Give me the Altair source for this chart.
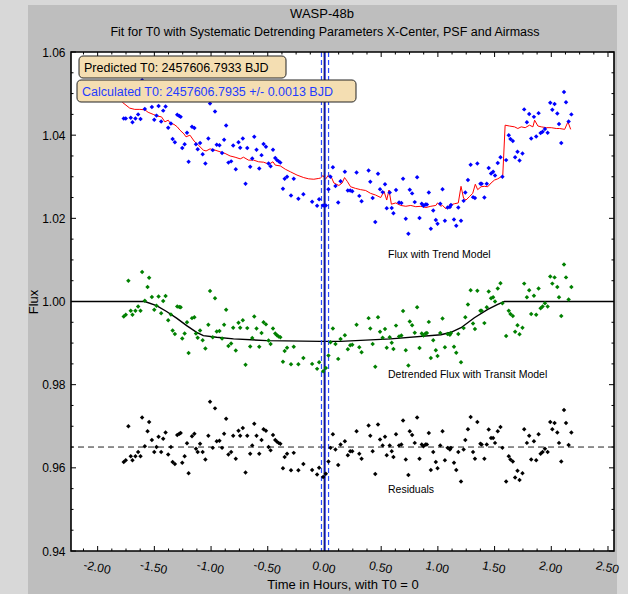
import altair as alt
import pandas as pd

# ---------------- data ----------------
time_h = [-1.770, -1.752, -1.729, -1.708, -1.693, -1.667, -1.643, -1.622, -1.608, -1.584,
          -1.560, -1.546, -1.522, -1.501, -1.481, -1.463, -1.440, -1.422, -1.401, -1.378,
          -1.354, -1.339, -1.319, -1.298, -1.280, -1.268, -1.254, -1.233, -1.212, -1.198,
          -1.168, -1.147, -1.133, -1.118, -1.097, -1.074, -1.050, -1.024, -1.009, -0.985,
          -0.965, -0.950, -0.926, -0.903, -0.885, -0.867, -0.847, -0.823, -0.805, -0.782,
          -0.758, -0.743, -0.720, -0.696, -0.681, -0.655, -0.637, -0.619, -0.599, -0.575,
          -0.555, -0.537, -0.516, -0.493, -0.475, -0.454, -0.434, -0.419, -0.404, -0.389,
          -0.366, -0.351, -0.330, -0.295, -0.271, -0.230, -0.186, -0.109, -0.065, -0.047,
          -0.012, 0.012, 0.035, 0.053, 0.074, 0.097, 0.121, 0.142, 0.180, 0.206,
          0.227, 0.245, 0.283, 0.307, 0.327, 0.389, 0.404, 0.425, 0.448, 0.472,
          0.490, 0.513, 0.534, 0.549, 0.575, 0.593, 0.608, 0.631, 0.658, 0.678,
          0.693, 0.717, 0.740, 0.752, 0.773, 0.796, 0.817, 0.838, 0.858, 0.873,
          0.891, 0.903, 0.920, 0.938, 0.959, 0.982, 0.997, 1.021, 1.041, 1.062,
          1.086, 1.106, 1.115, 1.142, 1.162, 1.180, 1.204, 1.227, 1.242, 1.265,
          1.289, 1.310, 1.327, 1.348, 1.375, 1.386, 1.410, 1.431, 1.448, 1.469,
          1.487, 1.504, 1.528, 1.552, 1.569, 1.602, 1.625, 1.640, 1.661, 1.681,
          1.702, 1.720, 1.746, 1.761, 1.785, 1.805, 1.823, 1.847, 1.867, 1.888,
          1.906, 1.923, 1.944, 1.968, 1.991, 2.009, 2.029, 2.053, 2.068, 2.088,
          2.112, 2.130, 2.153, 2.177]

flux_raw = [1.0440, 1.0440, 1.0517, 1.0442, 1.0431, 1.0440, 1.0450, 1.0439, 1.0532, 1.0463,
            1.0494, 1.0514, 1.0468, 1.0437, 1.0447, 1.0470, 1.0433, 1.0459, 1.0469, 1.0418,
            1.0428, 1.0391, 1.0383, 1.0449, 1.0446, 1.0444, 1.0369, 1.0378, 1.0406, 1.0336,
            1.0420, 1.0417, 1.0378, 1.0366, 1.0381, 1.0354, 1.0332, 1.0392, 1.0476, 1.0364,
            1.0457, 1.0377, 1.0376, 1.0357, 1.0389, 1.0423, 1.0334, 1.0337, 1.0375, 1.0318,
            1.0383, 1.0370, 1.0392, 1.0283, 1.0369, 1.0324, 1.0344, 1.0396, 1.0365, 1.0320,
            1.0352, 1.0379, 1.0372, 1.0332, 1.0325, 1.0365, 1.0345, 1.0340, 1.0337, 1.0334,
            1.0271, 1.0295, 1.0300, 1.0255, 1.0295, 1.0247, 1.0258, 1.0240, 1.0230, 1.0246,
            1.0231, 1.0231, 1.0270, 1.0300, 1.0323, 1.0278, 1.0238, 1.0289, 1.0312, 1.0267,
            1.0267, 1.0265, 1.0310, 1.0254, 1.0241, 1.0315, 1.0288, 1.0249, 1.0191, 1.0307,
            1.0270, 1.0263, 1.0282, 1.0224, 1.0262, 1.0225, 1.0212, 1.0268, 1.0238, 1.0237,
            1.0295, 1.0199, 1.0163, 1.0269, 1.0260, 1.0239, 1.0299, 1.0201, 1.0235, 1.0230,
            1.0233, 1.0233, 1.0262, 1.0175, 1.0219, 1.0196, 1.0187, 1.0235, 1.0270, 1.0194,
            1.0226, 1.0227, 1.0232, 1.0197, 1.0182, 1.0226, 1.0194, 1.0242, 1.0262, 1.0292,
            1.0329, 1.0251, 1.0249, 1.0332, 1.0283, 1.0283, 1.0250, 1.0283, 1.0321, 1.0308,
            1.0312, 1.0303, 1.0333, 1.0347, 1.0300, 1.0340, 1.0400, 1.0391, 1.0386, 1.0347,
            1.0360, 1.0339, 1.0356, 1.0462, 1.0431, 1.0451, 1.0392, 1.0444, 1.0397, 1.0453,
            1.0405, 1.0408, 1.0415, 1.0406, 1.0478, 1.0461, 1.0475, 1.0452, 1.0427, 1.0381,
            1.0504, 1.0479, 1.0433, 1.0450]

detrended = [0.9964, 0.9968, 1.0050, 0.9978, 0.9968, 0.9978, 0.9988, 0.9978, 1.0071, 1.0002,
             1.0035, 1.0057, 1.0011, 0.9980, 0.9990, 1.0012, 0.9972, 1.0001, 1.0013, 0.9955,
             0.9969, 0.9930, 0.9922, 0.9988, 0.9987, 0.9986, 0.9911, 0.9923, 0.9950, 0.9876,
             0.9960, 0.9962, 0.9923, 0.9913, 0.9930, 0.9907, 0.9887, 0.9944, 1.0025, 0.9914,
             1.0008, 0.9928, 0.9929, 0.9911, 0.9944, 0.9980, 0.9893, 0.9899, 0.9937, 0.9882,
             0.9949, 0.9937, 0.9955, 0.9848, 0.9936, 0.9892, 0.9912, 0.9964, 0.9935, 0.9891,
             0.9924, 0.9950, 0.9945, 0.9906, 0.9898, 0.9935, 0.9923, 0.9919, 0.9916, 0.9914,
             0.9855, 0.9881, 0.9889, 0.9849, 0.9891, 0.9849, 0.9864, 0.9850, 0.9838, 0.9854,
             0.9832, 0.9840, 0.9870, 0.9902, 0.9935, 0.9898, 0.9862, 0.9910, 0.9919, 0.9885,
             0.9895, 0.9896, 0.9944, 0.9890, 0.9878, 0.9960, 0.9935, 0.9898, 0.9843, 0.9962,
             0.9927, 0.9913, 0.9934, 0.9889, 0.9914, 0.9901, 0.9886, 0.9942, 0.9916, 0.9918,
             0.9977, 0.9883, 0.9846, 0.9952, 0.9943, 0.9925, 0.9986, 0.9888, 0.9923, 0.9918,
             0.9923, 0.9924, 0.9951, 0.9864, 0.9907, 0.9883, 0.9869, 0.9924, 0.9959, 0.9890,
             0.9922, 0.9920, 0.9924, 0.9891, 0.9877, 0.9922, 0.9854, 0.9936, 0.9962, 0.9993,
             1.0027, 0.9947, 0.9934, 1.0026, 0.9978, 0.9978, 0.9948, 0.9986, 1.0024, 1.0008,
             1.0010, 1.0000, 1.0031, 1.0044, 0.9996, 0.9917, 0.9978, 0.9970, 0.9965, 0.9927,
             0.9943, 0.9921, 0.9937, 1.0043, 1.0010, 1.0027, 0.9970, 1.0014, 0.9968, 1.0031,
             0.9984, 0.9988, 0.9996, 0.9988, 1.0060, 1.0043, 1.0058, 1.0035, 1.0010, 0.9965,
             1.0089, 1.0058, 1.0005, 1.0035]

residuals = [0.9614, 0.9618, 0.9700, 0.9628, 0.9618, 0.9628, 0.9638, 0.9628, 0.9721, 0.9652,
             0.9688, 0.9710, 0.9667, 0.9638, 0.9650, 0.9675, 0.9638, 0.9670, 0.9685, 0.9632,
             0.9650, 0.9614, 0.9609, 0.9679, 0.9682, 0.9684, 0.9612, 0.9628, 0.9659, 0.9587,
             0.9676, 0.9682, 0.9646, 0.9638, 0.9658, 0.9638, 0.9620, 0.9677, 0.9759, 0.9648,
             0.9743, 0.9664, 0.9665, 0.9648, 0.9682, 0.9718, 0.9632, 0.9638, 0.9677, 0.9622,
             0.9689, 0.9677, 0.9696, 0.9589, 0.9677, 0.9634, 0.9654, 0.9706, 0.9677, 0.9634,
             0.9667, 0.9693, 0.9689, 0.9650, 0.9642, 0.9679, 0.9667, 0.9663, 0.9660, 0.9658,
             0.9599, 0.9626, 0.9634, 0.9594, 0.9636, 0.9594, 0.9609, 0.9595, 0.9584, 0.9600,
             0.9578, 0.9586, 0.9615, 0.9648, 0.9681, 0.9644, 0.9607, 0.9656, 0.9664, 0.9630,
             0.9640, 0.9640, 0.9688, 0.9634, 0.9622, 0.9702, 0.9677, 0.9640, 0.9585, 0.9704,
             0.9668, 0.9654, 0.9675, 0.9630, 0.9654, 0.9640, 0.9626, 0.9681, 0.9654, 0.9656,
             0.9714, 0.9620, 0.9583, 0.9688, 0.9679, 0.9660, 0.9721, 0.9622, 0.9656, 0.9652,
             0.9656, 0.9656, 0.9684, 0.9595, 0.9638, 0.9614, 0.9599, 0.9654, 0.9688, 0.9618,
             0.9648, 0.9644, 0.9648, 0.9612, 0.9595, 0.9638, 0.9567, 0.9644, 0.9667, 0.9693,
             0.9722, 0.9638, 0.9622, 0.9710, 0.9658, 0.9656, 0.9622, 0.9656, 0.9692, 0.9672,
             0.9672, 0.9660, 0.9688, 0.9698, 0.9648, 0.9567, 0.9628, 0.9620, 0.9615, 0.9577,
             0.9593, 0.9571, 0.9587, 0.9693, 0.9660, 0.9677, 0.9620, 0.9664, 0.9618, 0.9681,
             0.9634, 0.9638, 0.9646, 0.9638, 0.9710, 0.9693, 0.9708, 0.9685, 0.9660, 0.9615,
             0.9739, 0.9708, 0.9655, 0.9685]

# red systematic trend model (vertices of the drawn line)
trend_t = [-1.782, -1.717, -1.673, -1.628, -1.584, -1.555, -1.510, -1.475, -1.437, -1.407,
           -1.378, -1.357, -1.327, -1.298, -1.274, -1.239, -1.221, -1.186, -1.150, -1.112,
           -1.068, -1.044, -1.009, -0.965, -0.920, -0.876, -0.832, -0.788, -0.743, -0.714,
           -0.670, -0.625, -0.581, -0.537, -0.507, -0.478, -0.454, -0.434, -0.389, -0.345,
           -0.301, -0.242, -0.183, -0.139, -0.094, -0.050, -0.035, -0.012, 0.009, 0.038,
           0.059, 0.083, 0.127, 0.156, 0.177, 0.201, 0.230, 0.274, 0.319, 0.363,
           0.407, 0.451, 0.496, 0.525, 0.549, 0.569, 0.590, 0.628, 0.673, 0.717,
           0.761, 0.805, 0.850, 0.894, 0.938, 0.982, 0.997, 1.027, 1.041, 1.071,
           1.100, 1.145, 1.180, 1.204, 1.227, 1.248, 1.277, 1.307, 1.330, 1.351,
           1.381, 1.410, 1.440, 1.469, 1.499, 1.528, 1.558, 1.572, 1.593, 1.631,
           1.676, 1.705, 1.735, 1.770, 1.808, 1.838, 1.853, 1.882, 1.912, 1.956,
           2.000, 2.044, 2.074, 2.118, 2.147, 2.171]
trend_v = [1.0479, 1.0465, 1.0462, 1.0462, 1.0461, 1.0455, 1.0450, 1.0446, 1.0444, 1.0432,
           1.0436, 1.0428, 1.0426, 1.0420, 1.0412, 1.0403, 1.0396, 1.0400, 1.0386, 1.0376,
           1.0364, 1.0362, 1.0367, 1.0364, 1.0360, 1.0356, 1.0350, 1.0347, 1.0343, 1.0347,
           1.0340, 1.0340, 1.0336, 1.0335, 1.0332, 1.0332, 1.0336, 1.0328, 1.0326, 1.0318,
           1.0312, 1.0304, 1.0298, 1.0295, 1.0294, 1.0296, 1.0297, 1.0303, 1.0294, 1.0305,
           1.0300, 1.0285, 1.0279, 1.0285, 1.0298, 1.0289, 1.0276, 1.0272, 1.0269, 1.0267,
           1.0260, 1.0256, 1.0250, 1.0265, 1.0244, 1.0268, 1.0234, 1.0237, 1.0231, 1.0229,
           1.0231, 1.0228, 1.0229, 1.0226, 1.0229, 1.0231, 1.0237, 1.0229, 1.0231, 1.0223,
           1.0231, 1.0235, 1.0237, 1.0277, 1.0248, 1.0244, 1.0252, 1.0260, 1.0282, 1.0269,
           1.0276, 1.0277, 1.0276, 1.0285, 1.0292, 1.0295, 1.0300, 1.0302, 1.0424, 1.0422,
           1.0420, 1.0416, 1.0420, 1.0418, 1.0424, 1.0420, 1.0436, 1.0422, 1.0420, 1.0418,
           1.0418, 1.0416, 1.0416, 1.0414, 1.0432, 1.0414]

# black transit model curve
model_t = [-2.235, -1.584, -1.481, -1.392, -1.304, -1.215, -1.127, -1.068, -0.950, -0.802,
           -0.507, -0.035, 0.142, 0.584, 1.027, 1.115, 1.204, 1.322, 1.440, 1.528,
           1.587, 2.553]
model_v = [1.0000, 1.0000, 0.9990, 0.9976, 0.9960, 0.9942, 0.9926, 0.9918, 0.9914, 0.9910,
           0.9906, 0.9904, 0.9904, 0.9910, 0.9920, 0.9926, 0.9937, 0.9961, 0.9981, 0.9993,
           1.0000, 1.0000]

resid_level = [0.965]
t0_pred = [0.0]
t0_calc = [0.0048]
t0_err = [-0.0264, 0.0360]

label_text = ["Flux with Trend Model", "Detrended Flux with Transit Model", "Residuals"]
label_h = [0.56, 0.56, 0.56]
label_v = [1.0112, 0.9823, 0.9547]

x_major = [-2.0, -1.5, -1.0, -0.5, 0.0, 0.5, 1.0, 1.5, 2.0, 2.5]
y_major = [0.94, 0.96, 0.98, 1.00, 1.02, 1.04, 1.06]

# ---------------- chart ----------------
W, H = 543, 499
FONT = "Liberation Sans"
XDOM = [-2.235, 2.553]
YDOM = [0.94, 1.06]

x_minor = [round(-2.125 + 0.125 * i, 3) for i in range(38)]
x_minor = [v for v in x_minor if XDOM[0] <= v <= XDOM[1] and v not in x_major]
y_minor = [round(0.945 + 0.005 * i, 3) for i in range(24)]
y_minor = [v for v in y_minor if v < 1.06 and round(v * 100, 6) % 2 != 0]

xsc = alt.Scale(domain=XDOM, nice=False, zero=False)
ysc = alt.Scale(domain=YDOM, nice=False, zero=False)

x_axis = alt.Axis(values=x_major,
                  labelExpr="replace(format(datum.value, '.2f'), '\u2212', '-')",
                  labelAngle=12, labelFont=FONT, labelFontSize=12, labelColor="black",
                  labelPadding=11, labelAlign="center", labelBaseline="top",
                  ticks=False, domain=False, grid=False,
                  title="Time in Hours, with T0 = 0", titleFont=FONT, titleFontSize=13,
                  titleFontWeight="normal", titleColor="black", titlePadding=3, zindex=1)
y_axis = alt.Axis(values=y_major, format=".2f", labelFont=FONT, labelFontSize=12,
                  labelColor="black", labelPadding=6, ticks=False, domain=False, grid=False,
                  title="Flux", titleFont=FONT, titleFontSize=13, titleFontWeight="normal",
                  titleColor="black", titlePadding=1, zindex=1)


def X(field="h"):
    return alt.X(f"{field}:Q", scale=xsc, axis=x_axis)


def Y(field="v"):
    return alt.Y(f"{field}:Q", scale=ysc, axis=y_axis)


one = pd.DataFrame({"h": [0.0]})

panel = alt.Chart(one).mark_rect(color="#bebebe").encode(
    x=alt.value(-43), x2=alt.value(546), y=alt.value(-47), y2=alt.value(560))
plotbg = alt.Chart(one).mark_rect(color="white").encode(
    x=alt.value(0), x2=alt.value(W), y=alt.value(0), y2=alt.value(H))

xmaj = pd.DataFrame({"h": x_major})
xmin = pd.DataFrame({"h": x_minor})
ymaj = pd.DataFrame({"v": y_major})
ymin = pd.DataFrame({"v": y_minor})
MAJ, MIN = 5, 2.5
tick_layers = []
for df, L in ((xmaj, MAJ), (xmin, MIN)):
    tick_layers.append(alt.Chart(df).mark_rule(color="black", strokeWidth=1).encode(
        x=X(), y=alt.value(H), y2=alt.value(H - L)))
    tick_layers.append(alt.Chart(df).mark_rule(color="black", strokeWidth=1).encode(
        x=X(), y=alt.value(0), y2=alt.value(L)))
for df, L in ((ymaj, MAJ), (ymin, MIN)):
    tick_layers.append(alt.Chart(df).mark_rule(color="black", strokeWidth=1).encode(
        y=Y(), x=alt.value(0), x2=alt.value(L)))
    tick_layers.append(alt.Chart(df).mark_rule(color="black", strokeWidth=1).encode(
        y=Y(), x=alt.value(W - L), x2=alt.value(W)))

pts = pd.DataFrame({"h": time_h, "raw": flux_raw, "det": detrended, "res": residuals})

resline = alt.Chart(pd.DataFrame({"v": resid_level})).mark_rule(
    color="#222222", strokeWidth=1, strokeDash=[6, 4]).encode(y=Y())

model = alt.Chart(pd.DataFrame({"h": model_t, "v": model_v})).mark_line(
    color="black", strokeWidth=1.4).encode(x=X(), y=Y(), order="h:Q")
trend = alt.Chart(pd.DataFrame({"h": trend_t, "v": trend_v})).mark_line(
    color="#ff0000", strokeWidth=1).encode(x=X(), y=Y(), order="h:Q")

vpred = alt.Chart(pd.DataFrame({"h": t0_pred})).mark_rule(
    color="black", strokeWidth=1.6).encode(x=X())
vcalc = alt.Chart(pd.DataFrame({"h": t0_calc})).mark_rule(
    color="#1f2dff", strokeWidth=1.2).encode(x=X())
verr = alt.Chart(pd.DataFrame({"h": t0_err})).mark_rule(
    color="#2a4bff", strokeWidth=1.2, strokeDash=[5, 3]).encode(x=X())

PT = dict(shape="diamond", filled=True, size=20, opacity=1)
blue = alt.Chart(pts).mark_point(color="#0000ff", **PT).encode(x=X(), y=Y("raw"))
green = alt.Chart(pts).mark_point(color="#008000", **PT).encode(x=X(), y=Y("det"))
black = alt.Chart(pts).mark_point(color="black", **PT).encode(x=X(), y=Y("res"))

labels = alt.Chart(pd.DataFrame({"h": label_h, "v": label_v, "t": label_text})).mark_text(
    align="left", baseline="middle", font=FONT, fontSize=10.5, color="black").encode(
    x=X(), y=Y(), text="t:N")

box1 = alt.Chart(one).mark_rect(fill="#f4deb2", stroke="#222222", strokeWidth=1,
                                cornerRadius=4).encode(
    x=alt.value(8), x2=alt.value(215), y=alt.value(4), y2=alt.value(26))
box2 = alt.Chart(one).mark_rect(fill="#f4deb2", stroke="#222222", strokeWidth=1,
                                cornerRadius=4).encode(
    x=alt.value(6), x2=alt.value(285), y=alt.value(28), y2=alt.value(50))
txt1 = alt.Chart(pd.DataFrame({"t": ["Predicted T0: 2457606.7933 BJD"]})).mark_text(
    align="left", baseline="middle", font=FONT, fontSize=12.5, color="black").encode(
    x=alt.value(13), y=alt.value(15.5), text="t:N")
txt2 = alt.Chart(pd.DataFrame({"t": ["Calculated T0: 2457606.7935 +/- 0.0013 BJD"]})).mark_text(
    align="left", baseline="middle", font=FONT, fontSize=12.5, color="#1f3cff").encode(
    x=alt.value(11), y=alt.value(39.5), text="t:N")

frame = alt.Chart(one).mark_rect(fillOpacity=0, stroke="black", strokeWidth=1.6).encode(
    x=alt.value(0), x2=alt.value(W), y=alt.value(0), y2=alt.value(H))

title1 = alt.Chart(pd.DataFrame({"t": ["WASP-48b"]})).mark_text(
    align="center", baseline="middle", font=FONT, fontSize=13, color="black").encode(
    x=alt.value(251), y=alt.value(-38), text="t:N")
title2 = alt.Chart(pd.DataFrame({"t": [
    "Fit for T0 with Systematic Detrending Parameters X-Center, PSF and Airmass"]})).mark_text(
    align="center", baseline="middle", font=FONT, fontSize=12.5, color="black").encode(
    x=alt.value(254), y=alt.value(-20), text="t:N")

chart = alt.layer(
    panel, plotbg, *tick_layers, resline, model, trend, vpred, vcalc, verr,
    blue, green, black, labels, box1, box2, txt1, txt2, frame, title1, title2
).properties(
    width=W, height=H,
    autosize=alt.AutoSizeParams(type="none"),
    padding={"left": 71, "top": 52, "right": 14, "bottom": 43},
    background="#d8d8d8",
).configure_view(stroke=None)

chart.save("out.html", embed_options={"renderer": "svg", "actions": False})
